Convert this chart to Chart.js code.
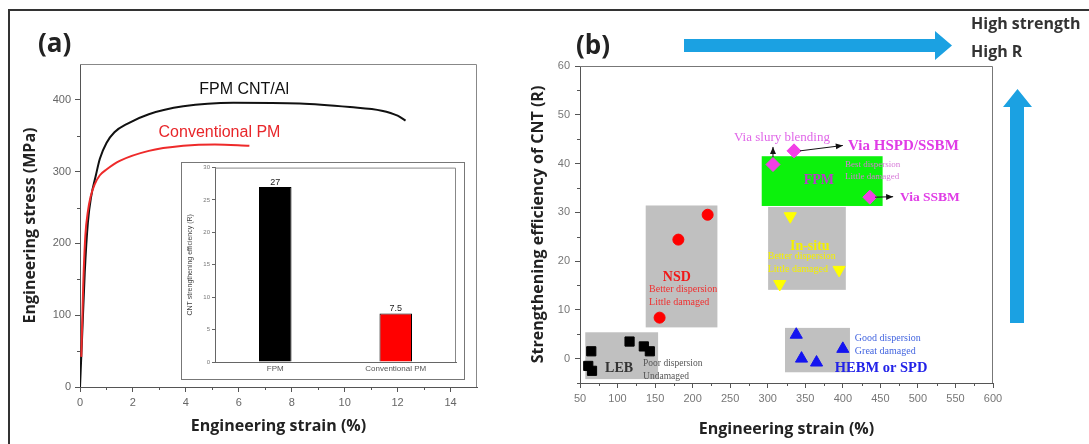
<!DOCTYPE html>
<html>
<head>
<meta charset="utf-8">
<script src="https://cdn.jsdelivr.net/npm/chart.js@4.4.1/dist/chart.umd.min.js"></script>
<style>
  html, body { margin: 0; padding: 0; background: #fff; }
  body { width: 1089px; height: 444px; position: relative; overflow: hidden; font-family: "Open Sans", sans-serif; }
  #frame { position: absolute; left: 8px; top: 9px; width: 1100px; height: 460px; border-left: 2px solid #333; border-top: 2px solid #333; }
  canvas { position: absolute; }
  #cA { left: 0; top: 0; }
  #cB { left: 181px; top: 162px; }
  #cC { left: 520px; top: 0; }
  #deco { position: absolute; left: 0; top: 0; }
  .lbl { position: absolute; font-weight: 700; color: #222; white-space: nowrap; line-height: 1; }
</style>
</head>
<body>
<div id="frame"></div>
<canvas id="cA" width="520" height="444"></canvas>
<canvas id="cC" width="490" height="444"></canvas>
<canvas id="cB" width="284" height="218"></canvas>
<svg id="deco" width="1089" height="444">
  <polygon points="684,39 935,39 935,31 952,45.5 935,60 935,52 684,52" fill="#1ba1e2"/>
  <polygon points="1010,323 1010,107 1003,107 1017.5,89 1032,107 1024,107 1024,323" fill="#1ba1e2"/>
</svg>
<div class="lbl" style="left:38px;top:29px;font-size:26px;">(a)</div>
<div class="lbl" style="left:576px;top:31px;font-size:26px;">(b)</div>
<div class="lbl" style="left:971px;top:15px;font-size:16px;color:#333;">High strength</div>
<div class="lbl" style="left:971px;top:43px;font-size:16px;color:#333;">High R</div>
<script>
// ---- panel (a): stress-strain curves ----
const fpmStrain = [0, 0.08, 0.18, 0.3, 0.42, 0.6, 0.75, 1.0, 1.3, 1.8, 2.6, 3.9, 5.8, 8.3, 10.2, 11.4, 12.0, 12.3];
const fpmStress = [0, 70, 160, 230, 265, 295, 318, 340, 355, 367, 380, 391, 396, 395, 390, 385, 378, 371];
const convStrain = [0.05, 0.12, 0.2, 0.3, 0.4, 0.55, 0.75, 1.0, 1.5, 2.6, 3.9, 5.1, 6.4];
const convStress = [42, 140, 210, 245, 265, 282, 295, 303, 315, 329, 336, 338, 336];
const strainTicksA = [0, 2, 4, 6, 8, 10, 12, 14];
const stressTicks = [0, 100, 200, 300, 400];

// ---- inset: strengthening efficiency ----
const insetLabels = ['FPM', 'Conventional PM'];
const insetValues = [27, 7.5];
const insetTicks = [0, 5, 10, 15, 20, 25, 30];

// ---- panel (b): R vs strain ----
const lebStrain = [65, 61, 66, 116, 135, 143];
const lebR = [1.5, -1.5, -2.5, 3.5, 2.5, 1.5];
const nsdStrain = [156, 181, 220];
const nsdR = [8.4, 24.4, 29.5];
const insituStrain = [330, 395, 316];
const insituR = [29.2, 18.2, 15.3];
const hebmStrain = [338, 345, 365, 400];
const hebmR = [4.9, 0, -0.8, 2.0];
const fpmbStrain = [307, 335, 436];
const fpmbR = [39.8, 42.6, 33.1];
const strainTicksB = [50, 100, 150, 200, 250, 300, 350, 400, 450, 500, 550, 600];
const rTicks = [0, 10, 20, 30, 40, 50, 60];

// shaded method regions, in data units
const regionBoxes = [
  { key: 'LEB', x: [57, 154], y: [-4.2, 5.4] },
  { key: 'NSD', x: [137.5, 233], y: [6.4, 31.4] },
  { key: 'insitu', x: [300.5, 404], y: [14.1, 31.1] },
  { key: 'HEBM', x: [323, 409.5], y: [-2.8, 6.3] },
  { key: 'FPM', x: [292, 453], y: [31.3, 41.5] },
];
const boxColors = { LEB: '#c0c0c0', NSD: '#c0c0c0', insitu: '#c0c0c0', HEBM: '#c0c0c0', FPM: '#0cf20c' };

const serif = '"Liberation Serif", "DejaVu Serif", serif';
const notes = [
  { t: 'LEB', x: 102, y: -2.05, f: 'bold 14px', c: '#333', a: 'center' },
  { t: 'Poor dispersion', x: 134, y: -1.0, f: '9.5px', c: '#555', a: 'left' },
  { t: 'Undamaged', x: 134, y: -3.7, f: '9.5px', c: '#555', a: 'left' },
  { t: 'NSD', x: 179, y: 16.6, f: 'bold 14px', c: '#f01818', a: 'center' },
  { t: 'Better dispersion', x: 142, y: 14.2, f: '10px', c: '#f03030', a: 'left' },
  { t: 'Little damaged', x: 142, y: 11.5, f: '10px', c: '#f03030', a: 'left' },
  { t: 'In-situ', x: 356, y: 23.0, f: 'bold 14px', c: '#f4f000', a: 'center' },
  { t: 'Better dispersion', x: 300, y: 20.9, f: '10px', c: '#f4f000', a: 'left' },
  { t: 'Little damaged', x: 300, y: 18.3, f: '10px', c: '#f4f000', a: 'left' },
  { t: 'FPM', x: 368, y: 36.6, f: 'bold 14px', c: '#b83cc8', a: 'center' },
  { t: 'Best dispersion', x: 403, y: 39.8, f: '9px', c: '#d77ad8', a: 'left' },
  { t: 'Little damaged', x: 403, y: 37.4, f: '9px', c: '#d77ad8', a: 'left' },
  { t: 'Via slury blending', x: 319, y: 45.4, f: '13px', c: '#e066e8', a: 'center' },
  { t: 'Via HSPD/SSBM', x: 407, y: 43.5, f: 'bold 15px', c: '#e03ce6', a: 'left' },
  { t: 'Via SSBM', x: 476, y: 33.1, f: 'bold 13.5px', c: '#e03ce6', a: 'left' },
  { t: 'Good dispersion', x: 416, y: 4.1, f: '10px', c: '#4466e0', a: 'left' },
  { t: 'Great damaged', x: 416, y: 1.4, f: '10px', c: '#4466e0', a: 'left' },
  { t: 'HEBM or SPD', x: 451, y: -2.05, f: 'bold 14.5px', c: '#2222e8', a: 'center' },
];
const noteArrows = [
  [307, 41.3, 307, 43.4],
  [343, 42.6, 400, 43.7],
  [443, 33.1, 467, 33.2],
];

const pts = (xs, ys) => xs.map((x, i) => ({ x, y: ys[i] }));
const fixTicks = arr => s => { s.ticks = arr.map(v => ({ value: v })); };

const boxFrame = {
  id: 'boxFrame',
  afterDraw(chart, args, opts) {
    const { ctx, chartArea: a } = chart;
    ctx.save();
    ctx.strokeStyle = opts.color;
    ctx.lineWidth = 1;
    ctx.beginPath();
    ctx.moveTo(a.left, a.top + 0.5); ctx.lineTo(a.right - 0.5, a.top + 0.5); ctx.lineTo(a.right - 0.5, a.bottom);
    ctx.stroke();
    ctx.restore();
  }
};

const minorTicks = {
  id: 'minorTicks',
  afterDraw(chart, args, opts) {
    if (!opts.x && !opts.y) return;
    const { ctx, scales } = chart;
    ctx.save();
    ctx.strokeStyle = opts.color;
    ctx.lineWidth = 1;
    (opts.x || []).forEach(v => {
      const px = Math.round(scales.x.getPixelForValue(v)) + 0.5;
      ctx.beginPath(); ctx.moveTo(px, scales.x.top); ctx.lineTo(px, scales.x.top + opts.len); ctx.stroke();
    });
    (opts.y || []).forEach(v => {
      const py = Math.round(scales.y.getPixelForValue(v)) + 0.5;
      ctx.beginPath(); ctx.moveTo(scales.y.right, py); ctx.lineTo(scales.y.right - opts.len, py); ctx.stroke();
    });
    ctx.restore();
  }
};

const axisOpts = (col, tickCol, font, len, pad) => ({
  border: { color: col, width: 1 },
  grid: { drawOnChartArea: false, drawTicks: true, tickLength: len, tickColor: col },
  ticks: { color: tickCol, font, padding: pad, maxRotation: 0 },
});

// ---------- chart A ----------
const curveLabels = {
  id: 'curveLabels',
  afterDatasetsDraw(chart) {
    const { ctx, scales: { x, y } } = chart;
    ctx.save();
    ctx.textAlign = 'center';
    ctx.textBaseline = 'middle';
    ctx.font = '16px "Liberation Sans", Arial, sans-serif';
    ctx.fillStyle = '#111';
    ctx.fillText('FPM CNT/Al', x.getPixelForValue(6.2), y.getPixelForValue(415));
    ctx.fillStyle = '#e8262a';
    ctx.fillText('Conventional PM', x.getPixelForValue(5.27), y.getPixelForValue(354));
    ctx.restore();
  }
};

const tickFontA = { family: '"Liberation Sans", Arial, sans-serif', size: 11 };
const titleFont = { family: '"Open Sans", sans-serif', size: 16, weight: 'bold' };

new Chart(document.getElementById('cA'), {
  type: 'scatter',
  data: {
    datasets: [
      { label: 'Conventional PM', data: pts(convStrain, convStress), showLine: true, borderColor: '#ee2a2a', borderWidth: 2, pointRadius: 0, cubicInterpolationMode: 'monotone' },
      { label: 'FPM CNT/Al', data: pts(fpmStrain, fpmStress), showLine: true, borderColor: '#111', borderWidth: 2, pointRadius: 0, cubicInterpolationMode: 'monotone' },
    ],
  },
  options: {
    responsive: false, animation: false,
    layout: { padding: { top: 64, right: 43, left: 0, bottom: 0 } },
    plugins: {
      legend: { display: false }, tooltip: { enabled: false },
      boxFrame: { color: '#888' },
      minorTicks: { x: [1, 3, 5, 7, 9, 11, 13], y: [50, 150, 250, 350], len: 3, color: '#555' },
    },
    scales: {
      x: {
        ...axisOpts('#555', '#666', tickFontA, 5, 4), min: 0, max: 15,
        afterBuildTicks: fixTicks(strainTicksA),
        afterFit: s => { s.height = 57; },
        title: { display: true, text: 'Engineering strain (%)', color: '#222', font: titleFont, padding: { top: 0, bottom: 8 } },
      },
      y: {
        ...axisOpts('#555', '#666', tickFontA, 5, 4), min: 0, max: 450,
        afterBuildTicks: fixTicks(stressTicks),
        afterFit: s => { s.width = 80; },
        title: { display: true, text: 'Engineering stress (MPa)', color: '#222', font: titleFont, padding: { top: 21, bottom: 0 } },
      },
    },
  },
  plugins: [boxFrame, minorTicks, curveLabels],
});

// ---------- chart B (inset) ----------
const insetPanel = {
  id: 'insetPanel',
  beforeDraw(chart) {
    const { ctx, width, height } = chart;
    ctx.save();
    ctx.fillStyle = '#fff';
    ctx.fillRect(0, 0, width, height);
    ctx.strokeStyle = '#777';
    ctx.lineWidth = 1;
    ctx.strokeRect(0.5, 0.5, width - 1, height - 1);
    ctx.restore();
  },
  afterDatasetsDraw(chart) {
    const { ctx } = chart;
    const meta = chart.getDatasetMeta(0);
    ctx.save();
    ctx.font = '9px "Liberation Sans", Arial, sans-serif';
    ctx.fillStyle = '#222';
    ctx.textAlign = 'center';
    ctx.textBaseline = 'bottom';
    meta.data.forEach((el, i) => ctx.fillText(String(insetValues[i]), el.x, el.y));
    ctx.restore();
  }
};

const tickFontB = { family: '"Liberation Sans", Arial, sans-serif', size: 6 };
new Chart(document.getElementById('cB'), {
  type: 'bar',
  data: {
    labels: insetLabels,
    datasets: [{ data: insetValues, backgroundColor: ['#000', '#ff0000'], borderColor: '#000', borderWidth: 1, categoryPercentage: 1, barPercentage: 0.27 }],
  },
  options: {
    responsive: false, animation: false,
    layout: { padding: { top: 4, right: 9, left: 0, bottom: 0 } },
    plugins: { legend: { display: false }, tooltip: { enabled: false }, boxFrame: { color: '#888' }, minorTicks: {} },
    scales: {
      x: {
        ...axisOpts('#666', '#555', { family: '"Liberation Sans", Arial, sans-serif', size: 8 }, 0, 2),
        afterFit: s => { s.height = 18; },
      },
      y: {
        ...axisOpts('#666', '#777', tickFontB, 3, 2), min: 0, max: 30,
        afterBuildTicks: fixTicks(insetTicks),
        afterFit: s => { s.width = 34; },
        title: { display: true, text: 'CNT strengthening efficiency (R)', color: '#444', font: { family: '"Liberation Sans", Arial, sans-serif', size: 7 }, padding: { top: 5, bottom: 0 } },
      },
    },
  },
  plugins: [insetPanel, boxFrame],
});

// ---------- chart C ----------
const regionsAndNotes = {
  id: 'regionsAndNotes',
  beforeDatasetsDraw(chart) {
    const { ctx, scales: { x, y } } = chart;
    ctx.save();
    regionBoxes.forEach(b => {
      const x0 = x.getPixelForValue(b.x[0]), x1 = x.getPixelForValue(b.x[1]);
      const y0 = y.getPixelForValue(b.y[1]), y1 = y.getPixelForValue(b.y[0]);
      ctx.fillStyle = boxColors[b.key];
      ctx.fillRect(x0, y0, x1 - x0, y1 - y0);
    });
    ctx.restore();
  },
  afterDatasetsDraw(chart) {
    const { ctx, scales: { x, y } } = chart;
    ctx.save();
    ctx.textBaseline = 'middle';
    notes.forEach(n => {
      ctx.font = n.f + ' ' + serif;
      ctx.fillStyle = n.c;
      ctx.textAlign = n.a;
      ctx.fillText(n.t, x.getPixelForValue(n.x), y.getPixelForValue(n.y));
    });
    ctx.strokeStyle = '#111';
    ctx.fillStyle = '#111';
    ctx.lineWidth = 1;
    noteArrows.forEach(([ax, ay, bx, by]) => {
      const x0 = x.getPixelForValue(ax), y0 = y.getPixelForValue(ay);
      const x1 = x.getPixelForValue(bx), y1 = y.getPixelForValue(by);
      const ang = Math.atan2(y1 - y0, x1 - x0);
      ctx.beginPath(); ctx.moveTo(x0, y0); ctx.lineTo(x1, y1); ctx.stroke();
      ctx.beginPath();
      ctx.moveTo(x1, y1);
      ctx.lineTo(x1 - 7 * Math.cos(ang) + 3 * Math.sin(ang), y1 - 7 * Math.sin(ang) - 3 * Math.cos(ang));
      ctx.lineTo(x1 - 7 * Math.cos(ang) - 3 * Math.sin(ang), y1 - 7 * Math.sin(ang) + 3 * Math.cos(ang));
      ctx.closePath(); ctx.fill();
    });
    ctx.restore();
  }
};

const tickFontC = { family: '"Liberation Sans", Arial, sans-serif', size: 11 };
new Chart(document.getElementById('cC'), {
  type: 'scatter',
  data: {
    datasets: [
      { label: 'FPM', data: pts(fpmbStrain, fpmbR), pointStyle: 'rectRot', pointRadius: 7, backgroundColor: '#f23fe6', borderColor: '#f23fe6' },
      { label: 'HEBM or SPD', data: pts(hebmStrain, hebmR), pointStyle: 'triangle', pointRadius: 7, backgroundColor: '#1414f0', borderColor: '#1414f0' },
      { label: 'In-situ', data: pts(insituStrain, insituR), pointStyle: 'triangle', pointRotation: 180, pointRadius: 7, backgroundColor: '#ffff00', borderColor: '#ffff00' },
      { label: 'NSD', data: pts(nsdStrain, nsdR), pointStyle: 'circle', pointRadius: 5.5, backgroundColor: '#ff0000', borderColor: '#ff0000' },
      { label: 'LEB', data: pts(lebStrain, lebR), pointStyle: 'rect', pointRadius: 6.5, backgroundColor: '#000', borderColor: '#000' },
    ],
  },
  options: {
    responsive: false, animation: false,
    layout: { padding: { top: 66, right: 17, left: 0, bottom: 0 } },
    plugins: {
      legend: { display: false }, tooltip: { enabled: false },
      boxFrame: { color: '#777' },
      minorTicks: { x: [75, 125, 175, 225, 275, 325, 375, 425, 475, 525, 575], y: [-5, 5, 15, 25, 35, 45, 55], len: 3, color: '#555' },
    },
    scales: {
      x: {
        ...axisOpts('#555', '#777', tickFontC, 5, 4), min: 50, max: 600,
        afterBuildTicks: fixTicks(strainTicksB),
        afterFit: s => { s.height = 61; },
        title: { display: true, text: 'Engineering strain (%)', color: '#222', font: titleFont, padding: { top: 0, bottom: 5 } },
      },
      y: {
        ...axisOpts('#555', '#777', tickFontC, 5, 5), min: -5, max: 60,
        afterBuildTicks: fixTicks(rTicks),
        afterFit: s => { s.width = 60; },
        title: { display: true, text: 'Strengthening efficiency of CNT (R)', color: '#222', font: titleFont, padding: { top: 9, bottom: 0 } },
      },
    },
  },
  plugins: [regionsAndNotes, boxFrame, minorTicks],
});
</script>
</body>
</html>
